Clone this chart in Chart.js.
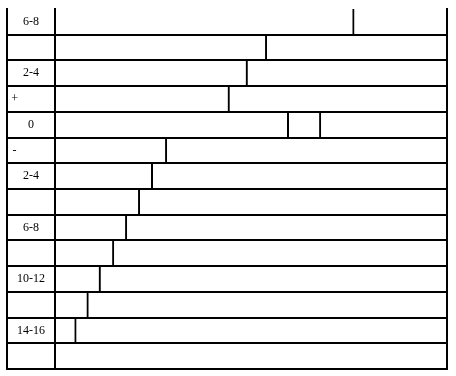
<!DOCTYPE html>
<html>
<head>
<meta charset="utf-8">
<script src="https://cdn.jsdelivr.net/npm/chart.js@4"></script>
<style>
  html, body { margin: 0; padding: 0; background: #fff; }
  #wrap { width: 456px; height: 376px; }
</style>
</head>
<body>
<div id="wrap"><canvas id="c" width="456" height="376"></canvas></div>
<script>
// Row labels (top to bottom)
const rowLabels = ['6-8', '', '2-4', '+', '0', '-', '2-4', '', '6-8', '', '10-12', '', '14-16', ''];
// Position of the mark in each row (0-100 scale)
const markValues = [76.4, 54.1, 49.2, 44.6, 59.7, 28.6, 25.0, 21.7, 18.4, 15.1, 11.7, 8.6, 5.5, null];
// Second mark (only in the "0" row)
const secondMarkValues = [null, null, null, null, 67.9, null, null, null, null, null, null, null, null, null];
// Labels that sit at the left of the label column
const leftAlignedLabels = ['+', '-'];

const barStyle = {
  backgroundColor: 'transparent',
  borderColor: '#000',
  borderWidth: { top: 0, right: 2, bottom: 0, left: 0 },
  borderSkipped: false,
  inflateAmount: 0,
  barPercentage: 1,
  categoryPercentage: 1,
  xAxisID: 'x',
  yAxisID: 'y'
};

new Chart(document.getElementById('c'), {
  type: 'bar',
  data: {
    labels: rowLabels,
    datasets: [
      Object.assign({ data: markValues }, barStyle),
      Object.assign({ data: secondMarkValues, grouped: false }, barStyle)
    ]
  },
  options: {
    indexAxis: 'y',
    responsive: false,
    animation: false,
    devicePixelRatio: 1,
    layout: { padding: { left: 7, right: 9, top: 9, bottom: 7 } },
    plugins: { legend: { display: false }, tooltip: { enabled: false } },
    scales: {
      y: {
        type: 'category',
        position: 'left',
        grid: {
          offset: true,
          lineWidth: 2,
          color: (ctx) => ctx.index === 0 ? 'rgba(0,0,0,0)' : '#000',
          drawTicks: true,
          tickLength: 48
        },
        border: { display: true, color: '#000', width: 2 },
        ticks: {
          color: '#000',
          font: { family: '"Liberation Serif", "Times New Roman", serif', size: 12 },
          crossAlign: 'center',
          padding: -44,
          callback: function (value, index) {
            const t = this.getLabelForValue(value);
            return leftAlignedLabels.includes(t) ? t + '           ' : t;
          }
        },
        afterFit: (s) => { s.width = 48; }
      },
      yLeftEdge: {
        type: 'linear',
        axis: 'y',
        position: 'left',
        weight: 10,
        grid: { display: false, drawTicks: false },
        ticks: { display: false },
        border: { display: true, color: '#000', width: 2 }
      },
      yRightEdge: {
        type: 'linear',
        axis: 'y',
        position: 'right',
        grid: { display: false, drawTicks: false },
        ticks: { display: false },
        border: { display: true, color: '#000', width: 2 }
      },
      x: {
        type: 'linear',
        min: 0,
        max: 100,
        display: false
      }
    }
  }
});
</script>
</body>
</html>
